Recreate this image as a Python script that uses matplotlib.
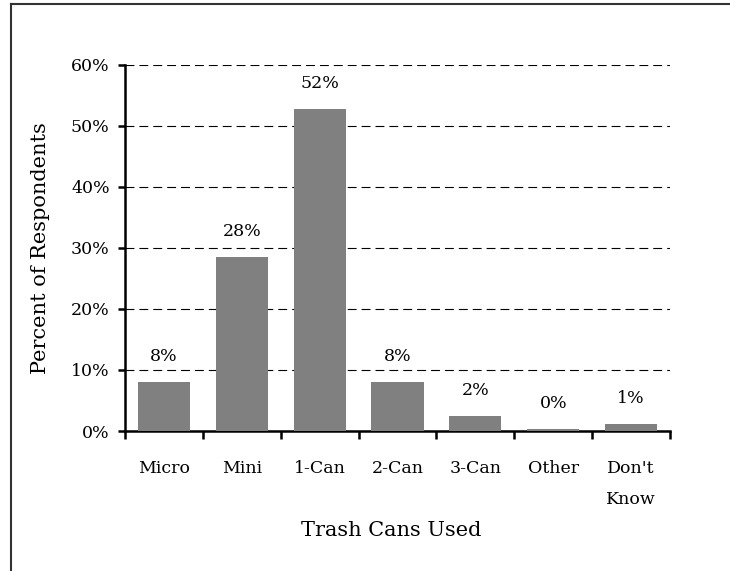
import numpy as np
import matplotlib
matplotlib.use('Agg')
from matplotlib import pyplot as plt
from matplotlib.lines import Line2D

# Data
categories = ['Micro', 'Mini', '1-Can', '2-Can', '3-Can', 'Other', "Don't\nKnow"]
values = [8.1, 28.5, 52.7, 8.1, 2.5, 0.4, 1.1]
value_labels = ['8%', '28%', '52%', '8%', '2%', '0%', '1%']
y_ticks = [0, 10, 20, 30, 40, 50, 60]

plt.rcParams['font.family'] = ['DejaVu Serif']
fs = 12.5

fig = plt.figure(figsize=(7.3, 5.71), dpi=100)
ax = fig.add_axes([125/730, 1 - 431/571, (670-125)/730, (431-64.5)/571])

x = np.arange(len(categories)) + 0.5
ax.bar(x, values, width=0.67, color='#808080', zorder=3)

for xi, v, lab in zip(x, values, value_labels):
    ax.annotate(lab, (xi, v), xytext=(0, 17), textcoords='offset pixels',
                ha='center', va='bottom', fontsize=fs)

ax.set_xlim(0, len(categories))
ax.set_ylim(0, 60)
ax.set_yticks(y_ticks)
ax.set_yticklabels([f'{t}%' for t in y_ticks], fontsize=fs)
ax.yaxis.grid(True, color='black', linewidth=0.8, linestyle=(0, (8, 4.5)), zorder=1)

# category boundaries get the tick marks, centres get the labels
ax.set_xticks(np.arange(len(categories) + 1))
ax.set_xticklabels([])
ax.set_xticks(x, minor=True)
ax.set_xticklabels(categories, minor=True, fontsize=fs, va='top', linespacing=2.1)
ax.tick_params(axis='x', which='minor', length=0, pad=21)
ax.tick_params(axis='x', which='major', length=6, width=1.8, direction='out')
ax.tick_params(axis='y', length=5, width=1.8, direction='out', pad=6)

for s in ['top', 'right']:
    ax.spines[s].set_visible(False)
for s in ['left', 'bottom']:
    ax.spines[s].set_linewidth(1.8)

ax.set_ylabel('Percent of Respondents', fontsize=15, labelpad=15)
fig.text(391/730, 1 - 530/571, 'Trash Cans Used', ha='center', va='center', fontsize=15)

# outer frame (top and left edge only visible)
fig.add_artist(Line2D([10.5/730, 1], [1 - 4/571, 1 - 4/571], color='#333333', lw=1.5))
fig.add_artist(Line2D([10.5/730, 10.5/730], [0, 1 - 4/571], color='#333333', lw=1.5))

fig.savefig('out.png', dpi=100)
